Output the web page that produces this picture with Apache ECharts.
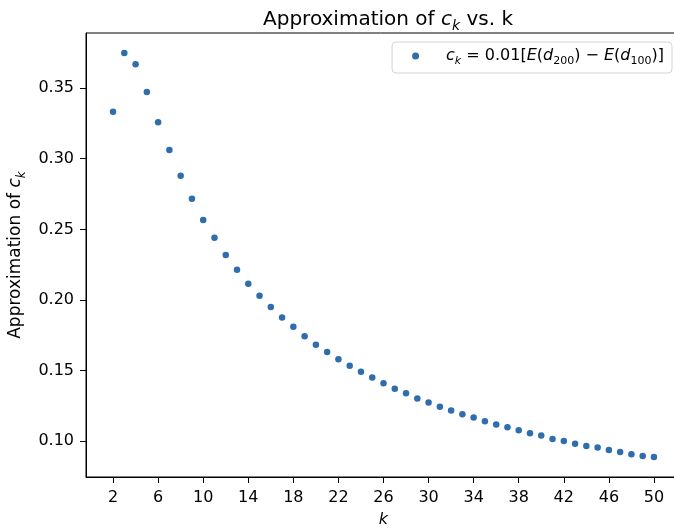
<!DOCTYPE html>
<html>
<head>
<meta charset="utf-8">
<script src="https://cdn.jsdelivr.net/npm/echarts@6/dist/echarts.min.js"></script>
<style>
  html, body { margin: 0; padding: 0; background: #fff; }
  #chart { width: 674px; height: 531px; }
</style>
</head>
<body>
<div id="chart"></div>
<script>
// k values and the estimated coefficient c_k for each k
const kValues = [2,3,4,5,6,7,8,9,10,11,12,13,14,15,16,17,18,19,20,21,22,23,24,25,26,
  27,28,29,30,31,32,33,34,35,36,37,38,39,40,41,42,43,44,45,46,47,48,49,50];
const ckValues = [0.3332,0.3749,0.3668,0.3472,0.3259,0.3062,0.2880,0.2717,0.2567,0.2440,
  0.2319,0.2214,0.2115,0.2030,0.1950,0.1876,0.1810,0.1744,0.1684,0.1632,0.1580,0.1535,
  0.1492,0.1452,0.1410,0.1371,0.1339,0.1303,0.1275,0.1244,0.1218,0.1192,0.1168,0.1142,
  0.1119,0.1099,0.1078,0.1057,0.1040,0.1016,0.1002,0.0983,0.0967,0.0955,0.0938,0.0924,
  0.0908,0.0896,0.0888];
const xTicks = [2,6,10,14,18,22,26,30,34,38,42,46,50];
const yTicks = [0.10,0.15,0.20,0.25,0.30,0.35];

const FONT = 'DejaVu Sans';
const points = kValues.map((k, i) => [k, ckValues[i]]);

const mathRich = (size) => ({
  n: { fontFamily: FONT, fontSize: size, fontWeight: 'normal', color: '#000', lineHeight: size + 6, verticalAlign: 'middle' },
  i: { fontFamily: FONT, fontSize: size, fontWeight: 'normal', fontStyle: 'italic', color: '#000', lineHeight: size + 6, verticalAlign: 'middle' },
  s: { fontFamily: FONT, fontSize: Math.round(size * 0.7), fontWeight: 'normal', fontStyle: 'italic', color: '#000', lineHeight: Math.round(size * 0.7), verticalAlign: 'bottom' },
  sn: { fontFamily: FONT, fontSize: Math.round(size * 0.7), fontWeight: 'normal', color: '#000', lineHeight: Math.round(size * 0.7), verticalAlign: 'bottom' },
  sp: { width: 22, fontSize: size, lineHeight: size + 6 }
});

const chart = echarts.init(document.getElementById('chart'), null, { renderer: 'canvas' });
chart.setOption({
  animation: false,
  backgroundColor: '#fff',
  title: {
    text: '{n|Approximation of }{i|c}{s|k}{n| vs. k}',
    left: 383,
    textAlign: 'center',
    top: 2,
    textStyle: { fontWeight: 'normal', rich: mathRich(20) }
  },
  legend: {
    right: 2,
    top: 42,
    orient: 'vertical',
    icon: 'circle',
    itemWidth: 7,
    itemHeight: 7,
    itemGap: 0,
    padding: [6, 8, 6, 20],
    borderColor: '#d3d3d3',
    borderWidth: 1,
    borderRadius: 4,
    backgroundColor: 'rgba(255,255,255,0.8)',
    formatter: () => '{sp|}{i|c}{s|k}{n| = 0.01[}{i|E}{n|(}{i|d}{sn|200}{n|) − }{i|E}{n|(}{i|d}{sn|100}{n|)]}',
    textStyle: { rich: mathRich(16) },
    data: ['ck']
  },
  grid: {
    left: 86, top: 33, width: 595, height: 444,
    outerBoundsMode: 'none',
    show: true, borderColor: '#000', borderWidth: 1, backgroundColor: 'transparent'
  },
  xAxis: {
    type: 'value',
    min: -0.4,
    max: 52.4,
    name: 'k',
    nameLocation: 'middle',
    nameGap: 35,
    nameTextStyle: { fontFamily: FONT, fontSize: 16, fontStyle: 'italic', color: '#000' },
    axisLine: { show: true, onZero: false, lineStyle: { color: '#000', width: 1 } },
    axisTick: { show: true, inside: false, length: 6, lineStyle: { color: '#000' }, customValues: xTicks },
    axisLabel: { fontFamily: FONT, fontSize: 16, color: '#000', margin: 13, customValues: xTicks, formatter: v => String(v) },
    splitLine: { show: false }
  },
  yAxis: {
    type: 'value',
    min: 0.0747,
    max: 0.389,
    name: '{n|Approximation of }{i|c}{s|k}',
    nameLocation: 'middle',
    nameRotate: 90,
    nameGap: 56,
    nameTextStyle: { rich: mathRich(17) },
    axisLine: { show: true, onZero: false, lineStyle: { color: '#000', width: 1 } },
    axisTick: { show: true, inside: false, length: 6, lineStyle: { color: '#000' }, customValues: yTicks },
    axisLabel: { fontFamily: FONT, fontSize: 16, color: '#000', margin: 12, customValues: yTicks, formatter: v => v.toFixed(2) },
    splitLine: { show: false }
  },
  series: [{
    name: 'ck',
    type: 'scatter',
    data: points,
    symbol: 'circle',
    symbolSize: 6.5,
    itemStyle: { color: '#2f6dad', opacity: 1 }
  }]
});
</script>
</body>
</html>
